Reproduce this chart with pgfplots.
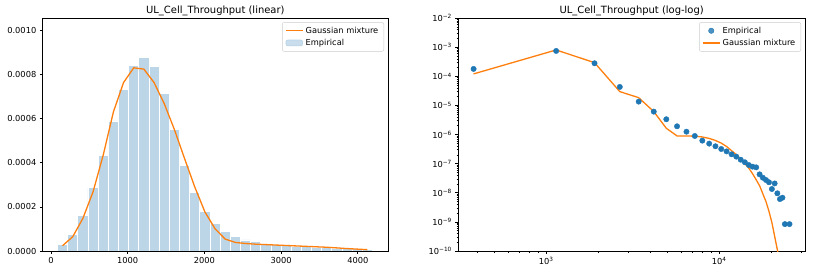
\documentclass[border=0pt]{standalone}
\usepackage{fontspec}
\setmainfont{DejaVu Sans}
\usepackage{pgfplots}
\pgfplotsset{compat=1.18}
\definecolor{mplblue}{HTML}{1F77B4}
\definecolor{mplorange}{HTML}{FF7F0E}
\definecolor{histblue}{HTML}{BCD6E8}

\pgfplotsset{
  every axis title shift=0pt,
  mpl/.style={
    scale only axis,
    height=232.8bp,
    axis line style={line width=0.7bp, black},
    tick align=outside,
    tick pos=left,
    major tick length=2.9bp,
    minor tick length=1.7bp,
    every tick/.style={line width=0.7bp, black},
    ticklabel style={font=\fontsize{8.3}{10}\selectfont},
    title style={font=\fontsize{10}{12}\selectfont, at={(0.5,1)}, anchor=south,
      inner sep=0pt, yshift=2bp},
    legend cell align=left,
    legend style={font=\fontsize{8.3}{10}\selectfont, draw=black!20,
      rounded corners=2bp, fill=white, fill opacity=0.8, text opacity=1,
      inner xsep=3bp, inner ysep=2.5bp, row sep=0.5bp, at={(1,1)}, anchor=north east,
      xshift=-4bp, yshift=-4bp,
      nodes={inner xsep=2.5bp}},
  },
  lineleg/.style={legend image code/.code={\draw[##1] (0bp,0bp) -- (16.6bp,0bp);}},
  patchleg/.style={legend image code/.code={\fill[histblue] (0bp,-2.8bp) rectangle (16.6bp,3bp);}},
  dotleg/.style={legend image code/.code={\draw[##1] plot coordinates {(8.3bp,0bp)};}},
}

\begin{document}
\begin{tikzpicture}
% linear histogram with mixture density
\begin{axis}[mpl,
  width=345.3bp,
  xmin=-108, xmax=4394, ymin=0, ymax=0.001056,
  xtick={0,1000,2000,3000,4000}, xticklabels={0,1000,2000,3000,4000},
  ytick={0,0.0002,0.0004,0.0006,0.0008,0.001},
  yticklabels={0.0000,0.0002,0.0004,0.0006,0.0008,0.0010},
  scaled y ticks=false,
  title={UL\_Cell\_Throughput (linear)},
  reverse legend,
]
\addplot[ybar interval, fill=histblue, draw=white, line width=0.8bp, patchleg] coordinates {
  (85,0.000031) (217.5,0.000077) (350,0.000163) (482.5,0.000287) (615,0.000435)
  (747.5,0.00059) (880,0.000733) (1012.5,0.00084) (1145,0.000877) (1277.5,0.000837)
  (1410,0.000716) (1542.5,0.000551) (1675,0.00039) (1807.5,0.000264) (1940,0.000178)
  (2072.5,0.000123) (2205,0.000087) (2337.5,0.000065) (2470,0.00005) (2602.5,0.000042)
  (2735,0.000033) (2867.5,0.00003) (3000,0.000027) (3132.5,0.000023) (3265,0.00002)
  (3397.5,0.000018) (3530,0.000016) (3662.5,0.000014) (3795,0.000012) (3927.5,0.00001)
  (4060,0.000008) (4192.5,0)
};
\addlegendentry{Empirical}
\addplot[mplorange, line width=1.3bp, lineleg] coordinates {
  (151,0.000024) (284,0.000065) (416,0.000148) (549,0.000269) (681,0.000435)
  (814,0.000631) (946,0.000764) (1079,0.000831) (1211,0.000825) (1344,0.000764)
  (1476,0.000669) (1609,0.000551) (1741,0.00042) (1874,0.000291) (2006,0.000178)
  (2139,0.000101) (2271,0.000054) (2404,0.000039) (2536,0.000034) (2669,0.000031)
  (2801,0.000029) (2934,0.000027) (3066,0.000025) (3199,0.000023) (3331,0.000021)
  (3464,0.000019) (3596,0.000017) (3729,0.000014) (3861,0.000011) (3994,0.0000085)
  (4126,0.000006)
};
\addlegendentry{Gaussian mixture}
\end{axis}

% log-log view
\begin{axis}[mpl,
  at={(415.6bp,0bp)},
  width=346.7bp,
  xmode=log, ymode=log,
  xmin=310, xmax=31300, ymin=1e-10, ymax=1e-2,
  xtick={1000,10000},
  xticklabels={10\textsuperscript{3},10\textsuperscript{4}},
  minor xtick={400,500,600,700,800,900,2000,3000,4000,5000,6000,7000,8000,9000,20000,30000},
  ytick={1e-10,1e-9,1e-8,1e-7,1e-6,1e-5,1e-4,1e-3,1e-2},
  yticklabels={10\textsuperscript{−10},10\textsuperscript{−9},10\textsuperscript{−8},
    10\textsuperscript{−7},10\textsuperscript{−6},10\textsuperscript{−5},
    10\textsuperscript{−4},10\textsuperscript{−3},10\textsuperscript{−2}},
  minor ytick={2e-10,3e-10,4e-10,5e-10,6e-10,7e-10,8e-10,9e-10,
    2e-9,3e-9,4e-9,5e-9,6e-9,7e-9,8e-9,9e-9,
    2e-8,3e-8,4e-8,5e-8,6e-8,7e-8,8e-8,9e-8,
    2e-7,3e-7,4e-7,5e-7,6e-7,7e-7,8e-7,9e-7,
    2e-6,3e-6,4e-6,5e-6,6e-6,7e-6,8e-6,9e-6,
    2e-5,3e-5,4e-5,5e-5,6e-5,7e-5,8e-5,9e-5,
    2e-4,3e-4,4e-4,5e-4,6e-4,7e-4,8e-4,9e-4,
    2e-3,3e-3,4e-3,5e-3,6e-3,7e-3,8e-3,9e-3},
  title={UL\_Cell\_Throughput (log-log)},
]
\addplot[only marks, mark=*, mark size=2.7bp, mplblue, dotleg] coordinates {
  (380,1.81e-4) (1140,7.5e-4) (1900,2.83e-4) (2660,4.35e-5) (3420,1.36e-5)
  (4180,6.15e-6) (4940,3.37e-6) (5700,1.93e-6) (6460,1.26e-6) (7220,8.97e-7)
  (7980,6.2e-7) (8740,4.9e-7) (9500,3.97e-7) (10260,3.2e-7) (11020,2.65e-7)
  (11780,2.1e-7) (12540,1.75e-7) (13300,1.37e-7) (14060,1.12e-7) (14820,9e-8)
  (15580,7.9e-8) (16340,7.5e-8) (17100,4.3e-8) (17860,3.3e-8) (18620,2.75e-8)
  (19380,2.3e-8) (20140,1.35e-8) (20900,2.1e-8) (21660,9.6e-9) (22420,6.1e-9)
  (23180,6.8e-9) (23940,8.4e-10) (25460,8.4e-10)
};
\addlegendentry{Empirical}
\addplot[mplorange, line width=1.3bp, lineleg] coordinates {
  (380,1.22e-4) (1140,8.1e-4) (1900,2.97e-4) (2660,3.0e-5) (3420,1.86e-5)
  (4180,6.2e-6) (4940,1.65e-6) (5700,9.0e-7) (6460,9.0e-7) (7220,8.8e-7)
  (7980,8.3e-7) (8740,7.4e-7) (9500,6.3e-7) (10260,5.1e-7) (11020,3.9e-7)
  (11780,2.8e-7) (12540,2.05e-7) (13300,1.45e-7) (14060,1.0e-7) (14820,7e-8)
  (15580,4.5e-8) (16340,2.8e-8) (17100,1.75e-8) (17860,9.2e-9) (18620,5e-9)
  (19380,2.3e-9) (20140,9.5e-10) (20900,3.2e-10) (21660,1.1e-10) (22420,4e-11)
  (23180,1.2e-11) (23940,3e-12)
};
\addlegendentry{Gaussian mixture}
\end{axis}
\pgfresetboundingbox
\path[use as bounding box] (-42.7bp,-22bp) rectangle (771.3bp,251bp);
\end{tikzpicture}
\end{document}
